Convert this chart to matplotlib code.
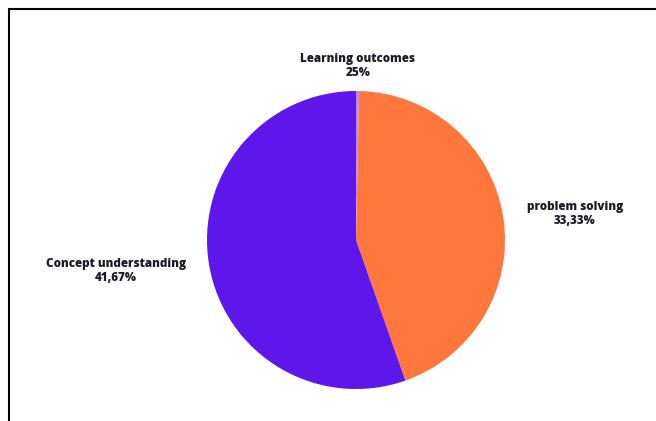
import matplotlib
matplotlib.use("Agg")
import matplotlib.pyplot as plt
from matplotlib.patches import Rectangle

plt.rcParams['font.family'] = ['Open Sans', 'DejaVu Sans']

categories = ["Learning outcomes", "problem solving", "Concept understanding"]
values = [0.25, 33.33, 41.67]
value_labels = ["25%", "33,33%", "41,67%"]
colors = ["#b58af7", "#ff773d", "#5d17eb"]

W, H = 656, 421
fig = plt.figure(figsize=(W / 100, H / 100), dpi=100)
ax = fig.add_axes([0, 0, 1, 1])

# pie centre at (356, 240) px, radius 149 px
cx, cy, r = 356, 240, 149

ax.pie(values, colors=colors, startangle=90, counterclock=False,
       radius=1, wedgeprops=dict(linewidth=0))
ax.set_xlim(-cx / r, (W - cx) / r)
ax.set_ylim(-(H - cy) / r, cy / r)
ax.set_aspect("auto")
ax.axis("off")

# label positions in pixels
label_px = [(358, 66), (575, 214), (116, 271)]
for name, vl, (px, py) in zip(categories, value_labels, label_px):
    ax.text((px - cx) / r, (cy - py) / r, name + "\n" + vl,
            ha="center", va="center", fontsize=8.4, fontweight="heavy",
            color="#1c1c28", linespacing=1.18)

# outer frame
fig.patches.append(Rectangle((9 / W, -0.1), 1.2, (H - 9) / H + 0.1,
                             transform=fig.transFigure, fill=False,
                             edgecolor="black", linewidth=1.5))

fig.savefig("out.png", dpi=100)
